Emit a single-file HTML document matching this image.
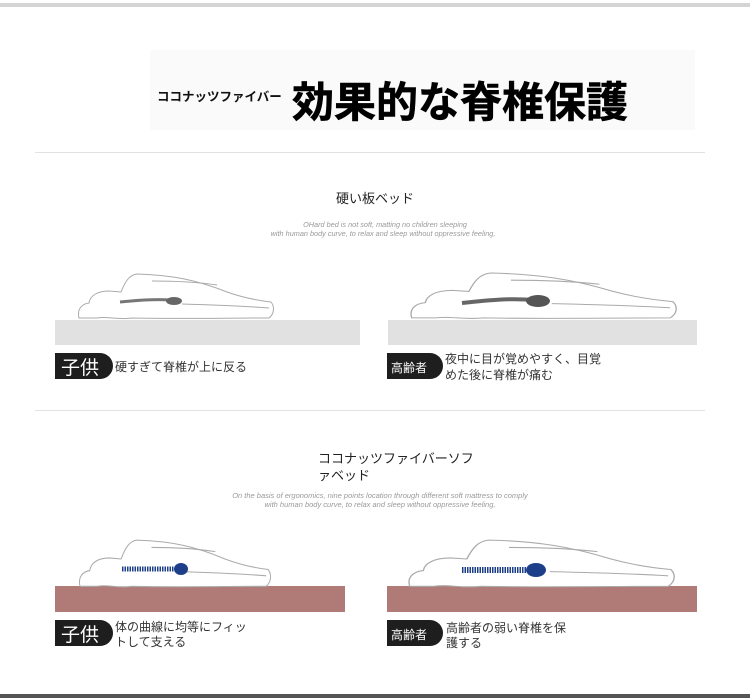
<!DOCTYPE html>
<html><head><meta charset="utf-8"><style>
html,body{margin:0;padding:0;background:#fff;}
svg{display:block}
text{font-family:"Liberation Sans","Noto Sans CJK JP",sans-serif;}
</style></head><body>
<svg width="750" height="698" viewBox="0 0 750 698" xmlns="http://www.w3.org/2000/svg">
<defs>
<g id="body">
<path d="M2,46 C0,38 4,32 12,31 C13,24 20,19 32,19 L44,20 C48,10 52,3 60,2 C95,3 120,8 150,20 C170,27 185,29 194,30 C198,35 197,42 192,46 C150,46 100,47 55,46 C40,48 30,44 20,46 Z" fill="#fff" stroke="#aaa" stroke-width="1"/>
<path d="M75,9 C100,9 120,10 140,13" fill="none" stroke="#aaa" stroke-width="1"/>
<path d="M105,32 C140,33 165,34 192,36" fill="none" stroke="#aaa" stroke-width="1"/>
</g>
</defs>
<rect x="0" y="3" width="750" height="4" fill="#d4d4d4"/>
<rect x="150" y="50" width="545" height="80" fill="#fafafa"/>
<text x="157" y="101" font-size="12.5" font-weight="bold" fill="#111">ココナッツファイバー</text>
<text x="292" y="117" font-size="42" font-weight="bold" fill="#000" stroke="#000" stroke-width="0.6">効果的な脊椎保護</text>
<rect x="35" y="152" width="670" height="1" fill="#e2e2e2"/>

<text x="375" y="203" font-size="13" text-anchor="middle" fill="#222">硬い板ベッド</text>
<text x="385" y="227" font-size="7.3" font-style="italic" text-anchor="middle" fill="#999">OHard bed is not soft, matting no children sleeping</text>
<text x="383" y="236" font-size="7.3" font-style="italic" text-anchor="middle" fill="#999">with human body curve, to relax and sleep without oppressive feeling,</text>

<rect x="55" y="320" width="305" height="25" fill="#e1e1e1"/>
<use href="#body" transform="translate(77,272)"/>
<path d="M120,302 C140,300 155,299 170,300" stroke="#777" stroke-width="3" fill="none"/>
<ellipse cx="174" cy="301" rx="8" ry="4" fill="#666"/>
<rect x="55" y="353" width="45" height="26" fill="#1e1e1e"/>
<path d="M98,353 L100,353 A13,13 0 0 1 100,379 L98,379 Z" fill="#1e1e1e"/>
<text x="61" y="374" font-size="19" fill="#fff">子供</text>
<text x="115" y="371" font-size="12" fill="#333">硬すぎて脊椎が上に反る</text>

<rect x="388" y="320" width="309" height="25" fill="#e1e1e1"/>
<use href="#body" transform="translate(409,271) scale(1.36,1.02)"/>
<path d="M462,303 C490,300 510,298 535,300" stroke="#666" stroke-width="4" fill="none"/>
<ellipse cx="538" cy="301" rx="12" ry="6" fill="#555"/>
<rect x="387" y="353" width="42" height="26" fill="#1e1e1e"/>
<path d="M427,353 L430,353 A13,13 0 0 1 430,379 L427,379 Z" fill="#1e1e1e"/>
<text x="391" y="372" font-size="12" fill="#fff">高齢者</text>
<text x="445" y="363" font-size="12" fill="#333">夜中に目が覚めやすく、目覚</text>
<text x="445" y="379" font-size="12" fill="#333">めた後に脊椎が痛む</text>

<rect x="35" y="410" width="670" height="1" fill="#e2e2e2"/>

<text x="318" y="463" font-size="13" fill="#222">ココナッツファイバーソフ</text>
<text x="318" y="480" font-size="13" fill="#222">ァベッド</text>
<text x="380" y="498" font-size="7.5" font-style="italic" text-anchor="middle" fill="#999">On the basis of ergonomics, nine points location through different soft mattress to comply</text>
<text x="380" y="507" font-size="7.5" font-style="italic" text-anchor="middle" fill="#999">with human body curve, to relax and sleep without oppressive feeling,</text>

<rect x="55" y="586" width="290" height="26" fill="#b07a76"/>
<use href="#body" transform="translate(78,538) scale(0.98,1.05)"/>
<path d="M122,569 L180,569" stroke="#1d3f8a" stroke-width="5" stroke-dasharray="1.5 1" fill="none"/>
<ellipse cx="181" cy="569" rx="7" ry="6" fill="#1d3f8a"/>
<rect x="55" y="620" width="45" height="26" fill="#1e1e1e"/>
<path d="M98,620 L100,620 A13,13 0 0 1 100,646 L98,646 Z" fill="#1e1e1e"/>
<text x="61" y="641" font-size="19" fill="#fff">子供</text>
<text x="115" y="631" font-size="12" fill="#333">体の曲線に均等にフィッ</text>
<text x="115" y="646" font-size="12" fill="#333">トして支える</text>

<rect x="387" y="586" width="310" height="26" fill="#b07a76"/>
<use href="#body" transform="translate(407,538) scale(1.36,1.05)"/>
<path d="M462,570 L530,570" stroke="#1d3f8a" stroke-width="6" stroke-dasharray="1.5 1" fill="none"/>
<ellipse cx="536" cy="570" rx="10" ry="7" fill="#1d3f8a"/>
<rect x="387" y="620" width="42" height="26" fill="#1e1e1e"/>
<path d="M427,620 L430,620 A13,13 0 0 1 430,646 L427,646 Z" fill="#1e1e1e"/>
<text x="391" y="639" font-size="12" fill="#fff">高齢者</text>
<text x="446" y="632" font-size="12" fill="#333">高齢者の弱い脊椎を保</text>
<text x="446" y="647" font-size="12" fill="#333">護する</text>

<rect x="0" y="694" width="750" height="4" fill="#555"/>
</svg>
</body></html>
